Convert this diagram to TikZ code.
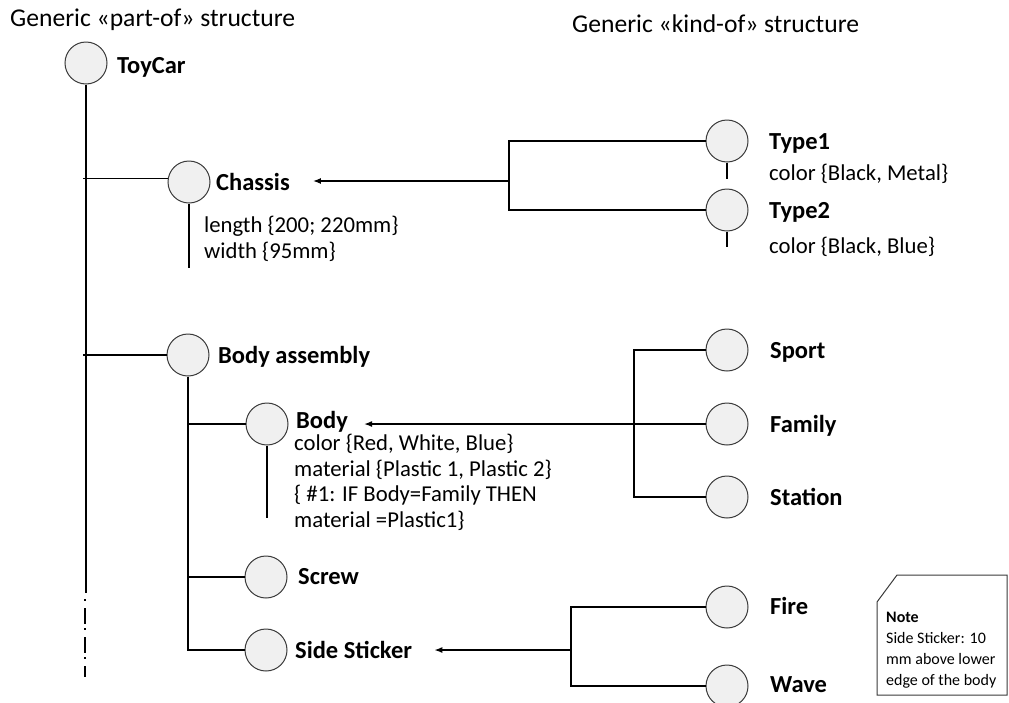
\documentclass[tikz,border=0pt]{standalone}
\usepackage{fontspec}
\setmainfont{Carlito}
\usetikzlibrary{arrows.meta,calc}
\definecolor{nodefill}{HTML}{F0F0F0}
\definecolor{nodeline}{HTML}{3A3A3A}
\begin{document}
\begin{tikzpicture}[x=1pt,y=-1pt,
  part/.style={circle,draw=nodeline,fill=nodefill,line width=1pt,minimum size=42pt,inner sep=0pt},
  lbl/.style={font=\fontsize{24.5}{29}\selectfont\bfseries,anchor=base west,inner sep=0pt},
  attr/.style={font=\fontsize{22.7}{25.4}\selectfont,anchor=base west,inner sep=0pt,align=left},
  heading/.style={font=\fontsize{25.6}{30}\selectfont,anchor=base west,inner sep=0pt},
  link/.style={line width=1.4pt},
  gen/.style={line width=1.4pt,-{Latex[length=8pt,width=6pt]}},
  notetext/.style={font=\fontsize{16}{21}\selectfont,anchor=base west,inner sep=0pt,align=left}
]
\useasboundingbox (0,0) rectangle (1009,702);

% headings
\node[heading] (hpart) at (10,26) {Generic «part-of» structure};
\node[heading] (hkind) at (572,32) {Generic «kind-of» structure};

% part-of tree: circles
\node[part] (toycar)  at (86,63)  {};
\node[part] (chassis) at (189,182) {};
\node[part] (bodyasm) at (188,355) {};
\node[part] (body)    at (267,424) {};
\node[part] (screw)   at (266,577) {};
\node[part] (sticker) at (266,650) {};

% kind-of variants: circles
\node[part] (type1)   at (727,141) {};
\node[part] (type2)   at (727,210) {};
\node[part] (sport)   at (727,350) {};
\node[part] (family)  at (727,424) {};
\node[part] (station) at (727,497) {};
\node[part] (fire)    at (727,607) {};
\node[part] (wave)    at (727,686) {};

% labels
\node[lbl] (toycarL)  at (117,73)  {ToyCar};
\node[lbl] (chassisL) at (216,190) {Chassis};
\node[lbl] (bodyasmL) at (218,363) {Body assembly};
\node[lbl] (bodyL)    at (296,428) {Body};
\node[lbl] (screwL)   at (298,584) {Screw};
\node[lbl] (stickerL) at (295,658) {Side Sticker};
\node[lbl] (type1L)   at (769,149) {Type1};
\node[lbl] (type2L)   at (769,218) {Type2};
\node[lbl] (sportL)   at (770,358) {Sport};
\node[lbl] (familyL)  at (770,432) {Family};
\node[lbl] (stationL) at (770,505) {Station};
\node[lbl] (fireL)    at (770,614) {Fire};
\node[lbl] (waveL)    at (770,692) {Wave};

% attributes (base anchor sits on the last line)
\node[attr] (chassisA) at (204,258) {length \{200; 220mm\}\\width \{95mm\}};
\node[attr] (type1A)   at (769,180) {color \{Black, Metal\}};
\node[attr] (type2A)   at (769,253) {color \{Black, Blue\}};
\node[attr] (bodyA)    at (294,527) {color \{Red, White, Blue\}\\material \{Plastic 1, Plastic 2\}\\\{ \#1: IF Body=Family THEN\\material =Plastic1\}};

% trunk of the part-of tree
\coordinate (trunkend) at (85,593);
\coordinate (dotstart) at (85,599);
\coordinate (dotend)   at (85,677);
\draw[link] (toycar.south) -- (toycar.south |- trunkend);
\draw[link,dash pattern=on 2pt off 7pt on 16pt off 4pt] (dotstart) -- (dotend);

% branches off the trunk
\draw[link] (chassis.170) -- ($(chassis.170 -| trunkend)+(-2,0)$);
\draw[link] (bodyasm.west) -- ($(bodyasm.west -| trunkend)+(-2,0)$);

% stems
\coordinate (chassisEnd) at (189,268);
\draw[link] (chassis.south) -- (chassis.south |- chassisEnd);
\coordinate (bodyEnd) at (267,518);
\draw[link] (body.south) -- (body.south |- bodyEnd);
\draw[link] (type1.south) -- ++(0,16);
\draw[link] (type2.south) -- ++(0,15);

% body assembly sub-branches
\draw[link] (bodyasm.south) -- (bodyasm.south |- sticker.west) -- (sticker.west);
\draw[link] (body.west) -- (body.west -| bodyasm.south);
\draw[link] (screw.west) -- (screw.west -| bodyasm.south);

% kind-of: chassis types
\coordinate (kjA) at (509,181);
\draw[link] (type1.west) -| (kjA) |- (type2.west);
\draw[gen,shorten >=23pt] (kjA) -- (kjA -| chassisL.east);

% kind-of: body types
\coordinate (kjB) at (634,424);
\draw[link] (sport.west) -| (kjB) |- (station.west);
\draw[link] (family.west) -- (kjB);
\draw[gen,shorten >=16pt] (kjB) -- (kjB -| bodyL.east);

% kind-of: sticker types
\coordinate (kjC) at (571,650);
\draw[link] (fire.west) -| (kjC) |- (wave.west);
\draw[gen,shorten >=22pt] (kjC) -- (kjC -| stickerL.east);

% note
\draw[line width=1pt,draw=nodeline] (877,602) -- (897,575) -- (1007,575) -- (1007,695) -- (877,695) -- cycle;
\node[notetext] (note) at (886,685) {\textbf{Note}\\Side Sticker: 10\\mm above lower\\edge of the body};
\end{tikzpicture}
\end{document}
